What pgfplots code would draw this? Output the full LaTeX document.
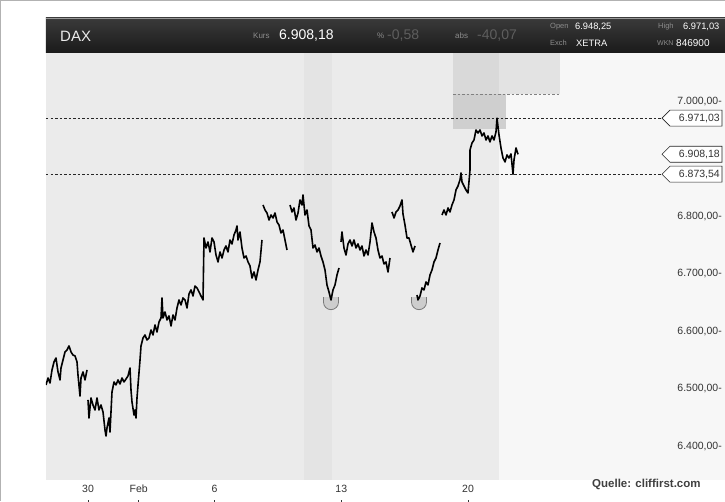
\documentclass[border=0pt]{standalone}
\usepackage{pgfplots}
\pgfplotsset{compat=1.18}
\usepackage{pgfplotstable}
\usepackage{fontspec}
\setmainfont{Liberation Sans}
\definecolor{plotbg}{HTML}{EBEBEB}
\definecolor{bandbg}{HTML}{E4E4E4}
\definecolor{rightbg}{HTML}{F7F7F7}
\definecolor{boxA}{HTML}{D9D9D9}
\definecolor{boxB}{HTML}{E3E3E3}
\definecolor{boxC}{HTML}{CFCFCF}
\definecolor{hdrtop}{HTML}{3A3A3A}
\definecolor{hdrbot}{HTML}{1A1A1A}
\definecolor{bowlfill}{HTML}{CDCDCD}
\definecolor{bowldraw}{HTML}{7A7A7A}
\definecolor{lbl}{HTML}{333333}
\definecolor{hgray}{HTML}{8C8C8C}
\definecolor{hdim}{HTML}{5E5E5E}
\pgfdeclareplotmark{bowl}{%
  \pgfpathmoveto{\pgfqpoint{-\pgfplotmarksize}{5pt}}%
  \pgfpathlineto{\pgfqpoint{-\pgfplotmarksize}{0pt}}%
  \pgfpatharc{180}{360}{\pgfplotmarksize}%
  \pgfpathlineto{\pgfqpoint{\pgfplotmarksize}{5pt}}%
  \pgfusepathqfillstroke}
\newcommand{\pricetag}[2]{%
  \draw[fill=white, draw=black!85, line width=0.6pt] (axis cs:22.658,#1) -- ++(8pt,8pt) -- ++(52pt,0pt) -- ++(0pt,-16pt) -- ++(-52pt,0pt) -- cycle;
  \node[anchor=east, inner sep=0pt, xshift=58pt, text=lbl, font=\fontsize{10.5}{12}\selectfont] at (axis cs:22.658,#1) {#2};}
\pgfplotstableread{
d v
-1.658 6507.0
-1.579 6519.1
-1.500 6510.4
-1.421 6533.1
-1.342 6547.0
-1.263 6553.9
-1.184 6529.6
-1.105 6515.7
-1.066 6536.5
-0.987 6550.4
-0.908 6564.4
-0.829 6567.8
-0.750 6574.8
-0.671 6564.4
-0.592 6559.1
-0.513 6557.4
-0.434 6547.0
-0.395 6524.4
-0.316 6487.8
-0.276 6519.1
-0.197 6529.6
-0.118 6515.7
-0.039 6533.1
-0.020 nan
0.000 6480.9
0.039 6449.6
0.118 6484.4
0.197 6472.2
0.276 6463.5
0.355 6484.4
0.434 6463.5
0.513 6472.2
0.592 6460.0
0.671 6428.7
0.711 6418.3
0.750 6432.2
0.829 6449.6
0.868 6425.2
0.947 6494.8
1.026 6512.2
1.105 6507.0
1.184 6515.7
1.263 6508.7
1.342 6519.1
1.421 6512.2
1.500 6517.4
1.579 6522.6
1.658 6536.5
1.697 6498.3
1.737 6477.4
1.816 6454.8
1.855 6463.5
1.895 6449.6
1.934 6484.4
1.974 6507.0
2.053 6550.4
2.092 6574.8
2.171 6588.7
2.250 6593.9
2.329 6585.2
2.408 6588.7
2.487 6602.6
2.566 6593.9
2.645 6611.3
2.724 6599.1
2.803 6616.5
2.882 6623.5
2.921 6658.3
2.961 6623.5
3.040 6633.9
3.119 6620.0
3.198 6627.0
3.277 6609.6
3.355 6628.7
3.434 6620.0
3.513 6640.9
3.592 6654.8
3.671 6646.1
3.750 6658.3
3.829 6654.8
3.908 6640.9
3.987 6665.2
4.066 6672.2
4.145 6661.7
4.224 6679.1
4.303 6675.7
4.382 6668.7
4.461 6661.7
4.540 6654.8
4.579 6762.6
4.658 6745.2
4.737 6755.7
4.816 6738.3
4.895 6762.6
4.974 6755.7
5.053 6733.0
5.132 6720.9
5.211 6738.3
5.290 6727.8
5.369 6741.7
5.447 6748.7
5.526 6738.3
5.605 6759.1
5.684 6752.2
5.763 6767.8
5.842 6776.5
5.882 6783.5
5.921 6759.1
6.000 6773.0
6.079 6745.2
6.158 6727.8
6.237 6731.3
6.316 6720.9
6.395 6713.9
6.474 6693.0
6.553 6703.5
6.632 6689.6
6.711 6707.0
6.789 6720.9
6.868 6759.1
6.890 nan
6.908 6820.0
6.987 6811.3
7.066 6806.1
7.145 6793.9
7.224 6802.6
7.303 6797.4
7.382 6806.1
7.461 6790.4
7.539 6785.2
7.618 6771.3
7.697 6776.5
7.776 6759.1
7.855 6741.7
7.930 nan
7.974 6820.0
8.053 6807.8
8.132 6814.8
8.211 6793.9
8.290 6806.1
8.368 6828.7
8.447 6820.0
8.487 6837.4
8.566 6802.6
8.645 6811.3
8.724 6783.5
8.803 6776.5
8.882 6745.2
8.961 6750.4
9.040 6738.3
9.118 6745.2
9.197 6731.3
9.276 6720.9
9.355 6707.0
9.434 6680.9
9.513 6668.7
9.592 6654.8
9.671 6672.2
9.750 6680.9
9.829 6698.3
9.908 6710.4
9.950 nan
9.987 6755.7
10.026 6773.0
10.105 6745.2
10.184 6733.0
10.263 6752.2
10.342 6759.1
10.421 6748.7
10.500 6759.1
10.579 6745.2
10.658 6752.2
10.737 6741.7
10.816 6748.7
10.895 6731.3
10.974 6741.7
11.053 6733.0
11.132 6755.7
11.211 6788.7
11.290 6773.0
11.368 6762.6
11.447 6741.7
11.526 6727.8
11.605 6731.3
11.684 6717.4
11.763 6720.9
11.842 6703.5
11.921 6727.8
11.960 nan
12.000 6807.8
12.079 6797.4
12.158 6807.8
12.237 6811.3
12.316 6818.3
12.395 6828.7
12.434 6804.3
12.513 6785.2
12.592 6762.6
12.671 6762.6
12.750 6750.4
12.829 6738.3
12.908 6748.7
12.950 nan
12.987 6663.5
13.026 6654.8
13.105 6661.7
13.184 6675.7
13.263 6672.2
13.342 6686.1
13.421 6680.9
13.500 6698.3
13.579 6707.0
13.658 6720.9
13.737 6727.8
13.816 6741.7
13.895 6753.9
13.930 nan
13.974 6802.6
14.053 6811.3
14.132 6802.6
14.211 6814.8
14.289 6807.8
14.368 6820.0
14.447 6828.7
14.526 6846.1
14.605 6853.0
14.684 6863.5
14.724 6875.7
14.763 6860.0
14.842 6853.0
14.921 6846.1
15.000 6840.9
15.079 6880.9
15.080 6915.7
15.158 6927.8
15.237 6933.0
15.316 6950.4
15.395 6945.2
15.474 6950.4
15.553 6940.0
15.632 6945.2
15.711 6933.0
15.789 6940.0
15.868 6929.6
15.947 6940.0
16.026 6933.0
16.105 6947.0
16.145 6971.03
16.224 6941.7
16.303 6919.1
16.382 6901.7
16.461 6894.8
16.539 6907.0
16.618 6901.7
16.697 6908.7
16.776 6873.54
16.816 6898.3
16.895 6919.1
16.974 6908.18
}\daxdata
\begin{document}
\begin{tikzpicture}
\useasboundingbox (-46pt,-21pt) rectangle (679pt,480pt);
\fill[white] (-46pt,-21pt) rectangle (679pt,480pt);
\draw[gray!60, line width=1pt] (-45.5pt,-21pt) -- (-45.5pt,479.5pt) -- (679pt,479.5pt);
\begin{axis}[
  at={(0pt,0pt)}, anchor=south west,
  scale only axis, width=679pt, height=427pt,
  xmin=-1.658, xmax=25.145, ymin=6341.7, ymax=7084.3,
  axis on top,
  clip mode=individual,
  unbounded coords=jump,
  axis line style={draw=none},
  tick style={draw=none},
  major tick length=0pt,
  ytick={6400,6500,6600,6700,6800,7000},
  yticklabels={{6.400,00-},{6.500,00-},{6.600,00-},{6.700,00-},{6.800,00-},{7.000,00-}},
  yticklabel pos=left,
  yticklabel style={anchor=east, inner sep=0pt, xshift=676pt, text=lbl, font=\fontsize{10.5}{12}\selectfont},
  xtick={0,2,5,10,15},
  xticklabels={{30\\[1pt]\rule{0.6pt}{5pt}},{Feb\\[1pt]\rule{0.6pt}{5pt}},{6\\[1pt]\rule{0.6pt}{5pt}},{13\\[1pt]\rule{0.6pt}{5pt}},{20\\[1pt]\rule{0.6pt}{5pt}}},
  xticklabel style={anchor=north, inner sep=0pt, yshift=-5pt, align=center, text=lbl, font=\fontsize{10.5}{11}\selectfont},
]
% backgrounds
\addplot[fill=rightbg, draw=none, forget plot] coordinates {(-1.658,6341.7)(25.145,6341.7)(25.145,7084.3)(-1.658,7084.3)};
\addplot[fill=plotbg, draw=none, forget plot] coordinates {(-1.658,6341.7)(16.224,6341.7)(16.224,7084.3)(-1.658,7084.3)};
\addplot[fill=bandbg, draw=none, forget plot] coordinates {(8.526,6341.7)(9.632,6341.7)(9.632,7084.3)(8.526,7084.3)};
\addplot[fill=boxB, draw=none, forget plot] coordinates {(16.224,7013.0)(18.63,7013.0)(18.63,7084.3)(16.224,7084.3)};
\addplot[fill=boxA, draw=none, forget plot] coordinates {(14.408,7013.0)(16.224,7013.0)(16.224,7084.3)(14.408,7084.3)};
\addplot[fill=boxC, draw=none, forget plot] coordinates {(14.408,6952.2)(16.50,6952.2)(16.50,7013.0)(14.408,7013.0)};
\addplot[draw=gray, line width=0.6pt, dash pattern=on 2.5pt off 2pt, forget plot] coordinates {(14.408,7013.0)(18.63,7013.0)};
% reference lines
\addplot[draw=black!85, line width=0.6pt, dash pattern=on 2.5pt off 2pt, forget plot] coordinates {(-1.658,6971.03)(22.658,6971.03)};
\addplot[draw=black!85, line width=0.6pt, dash pattern=on 2.5pt off 2pt, forget plot] coordinates {(-1.658,6873.54)(22.658,6873.54)};
% bowls at the lows
\addplot[only marks, mark=bowl, mark size=7.5pt, mark options={fill=bowlfill, draw=bowldraw, line width=0.8pt}, forget plot] coordinates {(9.592,6651)(13.066,6651)};
% price series
\addplot[black, line width=1.6pt, line join=round] table[x=d, y=v] {\daxdata};
% price tags
\pricetag{6971.03}{6.971,03}
\pricetag{6908.18}{6.908,18}
\pricetag{6873.54}{6.873,54}
\end{axis}
% header bar
\shade[top color=hdrtop, bottom color=hdrbot] (0pt,427pt) rectangle (679pt,462pt);
\draw[black!40, line width=0.5pt] (0pt,461.75pt) -- (679pt,461.75pt);
\node[anchor=west, inner sep=0pt, text=white!92!black, font=\fontsize{15}{16}\selectfont] at (14pt,444pt) {DAX};
\node[anchor=west, inner sep=0pt, text=hgray, font=\fontsize{8}{9}\selectfont] at (207pt,444pt) {Kurs};
\node[anchor=west, inner sep=0pt, text=white, font=\fontsize{14}{15}\selectfont] at (233pt,444pt) {6.908,18};
\node[anchor=west, inner sep=0pt, text=hgray, font=\fontsize{8}{9}\selectfont] at (331pt,444pt) {\%};
\node[anchor=west, inner sep=0pt, text=hdim, font=\fontsize{14}{15}\selectfont] at (341pt,444pt) {-0,58};
\node[anchor=west, inner sep=0pt, text=hgray, font=\fontsize{8}{9}\selectfont] at (409pt,444pt) {abs};
\node[anchor=west, inner sep=0pt, text=hdim, font=\fontsize{14}{15}\selectfont] at (431pt,444pt) {-40,07};
\node[anchor=west, inner sep=0pt, text=hgray, font=\fontsize{7.5}{9}\selectfont] at (504pt,453pt) {Open};
\node[anchor=west, inner sep=0pt, text=white, font=\fontsize{9.3}{10}\selectfont] at (529pt,453pt) {6.948,25};
\node[anchor=west, inner sep=0pt, text=hgray, font=\fontsize{7.5}{9}\selectfont] at (504pt,437pt) {Exch};
\node[anchor=west, inner sep=0pt, text=white, font=\fontsize{9.3}{10}\selectfont] at (530pt,437pt) {XETRA};
\node[anchor=west, inner sep=0pt, text=hgray, font=\fontsize{7.5}{9}\selectfont] at (612pt,453pt) {High};
\node[anchor=west, inner sep=0pt, text=white, font=\fontsize{9.3}{10}\selectfont] at (637pt,453pt) {6.971,03};
\node[anchor=west, inner sep=0pt, text=hgray, font=\fontsize{7}{9}\selectfont] at (611pt,437pt) {WKN};
\node[anchor=west, inner sep=0pt, text=white, font=\fontsize{10}{10}\selectfont] at (630pt,437pt) {846900};
% source
\node[anchor=west, inner sep=0pt, text=black!75, font=\bfseries\fontsize{11.5}{12}\selectfont] at (546pt,-4pt) {Quelle: cliffirst.com};
\end{tikzpicture}
\end{document}
